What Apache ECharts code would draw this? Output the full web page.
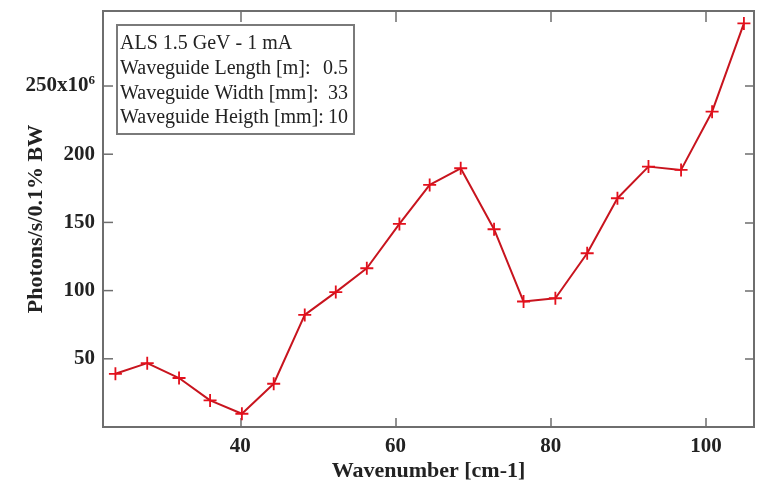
<!DOCTYPE html>
<html>
<head>
<meta charset="utf-8">
<script src="https://cdn.jsdelivr.net/npm/echarts@6/dist/echarts.min.js"></script>
<style>
html,body{margin:0;padding:0;background:#fff;}
#chart{width:757px;height:488px;}
</style>
</head>
<body>
<div id="chart"></div>
<script>
// Data
var wavenumber = [23.9, 28.0, 32.1, 36.1, 40.2, 44.3, 48.3, 52.3, 56.3, 60.5, 64.4, 68.4, 72.7, 76.5, 80.6, 84.7, 88.6, 92.6, 96.8, 100.8, 104.9];
var photons = [39.0, 46.8, 35.9, 19.5, 9.7, 31.7, 82.2, 98.9, 116.4, 148.9, 177.5, 189.7, 145.0, 92.0, 94.4, 127.4, 167.7, 190.9, 188.5, 231.2, 295.9];
var xTicks = [40, 60, 80, 100];
var yTicks = [50, 100, 150, 200, 250];
var legendTitle = 'ALS 1.5 GeV - 1 mA';
var legendLabels = ['Waveguide Length [m]:', 'Waveguide Width [mm]:', 'Waveguide Heigth [mm]:'];
var legendValues = ['0.5', '33', '10'];

var xMin = 22.3, xMax = 106.2, yMin = 0, yMax = 305;
var frameColor = '#6e6e6e';
var serif = '"Liberation Serif", "DejaVu Serif", serif';
var lineData = wavenumber.map(function (x, i) { return [x, photons[i]]; });
var plus = 'path://M0,43H100V57H0Z M43,0H57V100H43Z';

var chart = echarts.init(document.getElementById('chart'), null, {renderer: 'canvas'});

var legendChildren = [{
  type: 'rect', shape: {x: 0, y: 0, width: 237, height: 109},
  style: {fill: '#fff', stroke: '#7a7a7a', lineWidth: 2}
}, {
  type: 'text', x: 3, y: 19,
  style: {text: legendTitle, font: '20px ' + serif, fill: '#222', textVerticalAlign: 'middle'}
}];
legendLabels.forEach(function (t, i) {
  legendChildren.push({
    type: 'text', x: 3, y: 44 + i * 24.5,
    style: {text: t, font: '20px ' + serif, fill: '#222', textVerticalAlign: 'middle'}
  });
  legendChildren.push({
    type: 'text', x: 231, y: 44 + i * 24.5,
    style: {text: legendValues[i], font: '20px ' + serif, fill: '#222', textAlign: 'right', textVerticalAlign: 'middle'}
  });
});

function tickCfg(len, inside) {
  return {show: true, inside: inside, length: len, lineStyle: {color: frameColor, width: 1.5}};
}

var option = {
  backgroundColor: '#fff',
  animation: false,
  grid: {left: 103, top: 11, width: 651, height: 416, show: true, borderColor: frameColor, borderWidth: 2,
         backgroundColor: 'transparent', containLabel: false, outerBoundsMode: 'none'},
  xAxis: [{
    type: 'value', position: 'bottom', min: xMin, max: xMax,
    name: 'Wavenumber [cm-1]', nameLocation: 'middle', nameGap: 33, nameMoveOverlap: false,
    nameTextStyle: {fontFamily: serif, fontSize: 22, fontWeight: 'bold', color: '#222'},
    axisLine: {show: true, onZero: false, lineStyle: {color: frameColor, width: 2}},
    axisTick: Object.assign(tickCfg(9, true), {customValues: xTicks}),
    axisLabel: {show: true, customValues: xTicks, margin: 9, fontFamily: serif, fontSize: 21, fontWeight: 'bold', color: '#222'},
    splitLine: {show: false}
  }, {
    type: 'value', position: 'top', min: xMin, max: xMax,
    axisLine: {show: true, onZero: false, lineStyle: {color: frameColor, width: 2}},
    axisTick: Object.assign(tickCfg(11, true), {customValues: xTicks}),
    axisLabel: {show: false},
    splitLine: {show: false}
  }],
  yAxis: [{
    type: 'value', position: 'left', offset: 0, min: yMin, max: yMax,
    name: 'Photons/s/0.1% BW', nameLocation: 'middle', nameGap: 56, nameMoveOverlap: false,
    nameTextStyle: {fontFamily: serif, fontSize: 22, fontWeight: 'bold', color: '#222'},
    axisLine: {show: true, onZero: false, lineStyle: {color: frameColor, width: 2}},
    axisTick: {show: false},
    axisLabel: {
      show: true, customValues: yTicks, margin: 8,
      fontFamily: serif, fontSize: 21, fontWeight: 'bold', color: '#222',
      formatter: function (v) { return v === 250 ? '{a|250x10}{s|6}' : String(v); },
      rich: {
        a: {fontFamily: serif, fontSize: 21, fontWeight: 'bold', color: '#222'},
        s: {fontFamily: serif, fontSize: 13, fontWeight: 'bold', color: '#222', verticalAlign: 'top', padding: [0, 0, 10, 0]}
      }
    },
    splitLine: {show: false}
  }, {
    type: 'value', position: 'right', offset: 0, min: yMin, max: yMax,
    axisLine: {show: true, onZero: false, lineStyle: {color: frameColor, width: 2}},
    axisTick: Object.assign(tickCfg(9, true), {customValues: yTicks}),
    axisLabel: {show: false},
    splitLine: {show: false}
  }],
  series: [{
    // left-side inward ticks, positioned through the axis scales
    type: 'custom', xAxisIndex: 0, yAxisIndex: 0, silent: true, clip: false, z: 1,
    data: yTicks.map(function (v) { return [xMin, v]; }),
    encode: {x: 0, y: 1},
    renderItem: function (params, api) {
      var p = api.coord([api.value(0), api.value(1)]);
      return {type: 'line', shape: {x1: p[0], y1: p[1], x2: p[0] + 10, y2: p[1]},
              style: {stroke: frameColor, lineWidth: 1.5}};
    }
  }, {
    type: 'line', xAxisIndex: 0, yAxisIndex: 0,
    data: lineData,
    symbol: plus, symbolSize: 13, showAllSymbol: true,
    itemStyle: {color: '#e3101c'},
    lineStyle: {color: '#c8141e', width: 2},
    z: 3
  }],
  graphic: [{
    type: 'group', left: 116, top: 24, z: 10,
    children: legendChildren
  }]
};
chart.setOption(option);
</script>
</body>
</html>
